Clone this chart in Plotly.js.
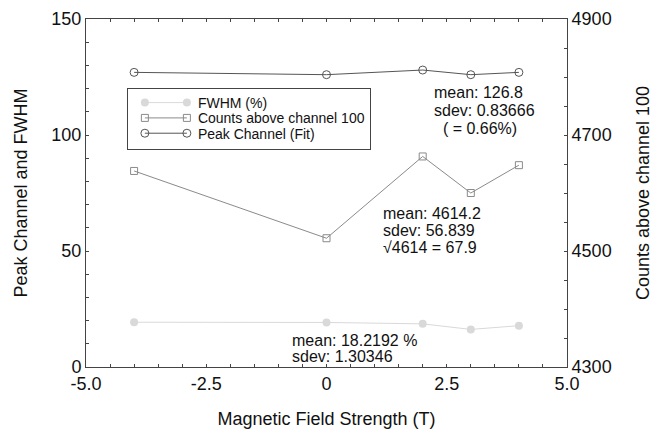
<!DOCTYPE html>
<html>
<head>
<meta charset="utf-8">
<script src="https://cdn.plot.ly/plotly-3.0.1.min.js"></script>
<style>
html,body{margin:0;padding:0;background:#fff;}
#chart{width:653px;height:429px;}
</style>
</head>
<body>
<div id="chart"></div>
<script>
// Data
const fieldStrength = [-4, 0, 2, 3, 4];
const fwhmPercent = [19.3, 19.2, 18.6, 16.2, 17.8];
const countsAbove100 = [4638, 4522, 4663, 4600, 4648];
const peakChannel = [127, 126, 128, 126, 127];

const seriesNames = ["FWHM (%)", "Counts above channel 100", "Peak Channel (Fit)"];
const xTickVals = [-5, -2.5, 0, 2.5, 5];
const xTickText = ["-5.0", "-2.5", "0", "2.5", "5.0"];
const yLeftTicks = [0, 50, 100, 150];
const yRightTicks = [4300, 4500, 4700, 4900];

const peakStats = ["mean: 126.8", "sdev: 0.83666", "\u00a0\u00a0( = 0.66%)"];
const countStats = ["mean: 4614.2", "sdev: 56.839", "\u221a4614 = 67.9"];
const fwhmStats = ["mean: 18.2192 %", "sdev: 1.30346"];

const FONT = "Liberation Sans, Arial, Helvetica, sans-serif";
const AXC = "#444";

const traces = [
  {
    x: fieldStrength, y: fwhmPercent, name: seriesNames[0], yaxis: "y",
    mode: "lines+markers",
    line: {color: "#d9d9d9", width: 1},
    marker: {symbol: "circle", size: 8, color: "#d9d9d9"}
  },
  {
    x: fieldStrength, y: countsAbove100, name: seriesNames[1], yaxis: "y2",
    mode: "lines+markers",
    line: {color: "#8a8a8a", width: 1},
    marker: {symbol: "square-open", size: 7, color: "#8a8a8a", line: {width: 1, color: "#8a8a8a"}}
  },
  {
    x: fieldStrength, y: peakChannel, name: seriesNames[2], yaxis: "y",
    mode: "lines+markers",
    line: {color: "#555", width: 1},
    marker: {symbol: "circle-open", size: 8, color: "#555", line: {width: 1, color: "#555"}}
  }
];

function statAnn(lines, x0, yVals) {
  return lines.map((t, i) => ({
    text: t, x: x0, y: yVals[i], xref: "x", yref: "y",
    xanchor: "left", yanchor: "middle", showarrow: false,
    font: {family: FONT, size: 16, color: "#111"}
  }));
}

const annotations = [].concat(
  statAnn(peakStats, 2.2, [118.2, 110.6, 102.6]),
  statAnn(countStats, 1.14, [66.3, 58.9, 51.3]),
  statAnn(fwhmStats, -0.75, [11.4, 4.5])
);

const layout = {
  width: 653, height: 429,
  margin: {l: 86, r: 86, t: 19, b: 62, pad: 0},
  paper_bgcolor: "#fff", plot_bgcolor: "#fff",
  font: {family: FONT, size: 18, color: "#111"},
  showlegend: true,
  legend: {
    x: 0.085, y: 0.802, xanchor: "left", yanchor: "top",
    bgcolor: "#fff", bordercolor: AXC, borderwidth: 1,
    font: {family: FONT, size: 14, color: "#111"},
    itemwidth: 60, tracegroupgap: 0
  },
  xaxis: {
    range: [-5, 5], tickmode: "array", tickvals: xTickVals, ticktext: xTickText,
    ticks: "inside", ticklen: 3, tickcolor: AXC, tickwidth: 1,
    minor: {dtick: 0.5, ticks: "inside", ticklen: 3, tickcolor: AXC, showgrid: false},
    showline: true, linecolor: AXC, linewidth: 1, mirror: "ticks",
    showgrid: false, zeroline: false,
    tickfont: {size: 18},
    title: {text: "Magnetic Field Strength (T)", font: {size: 18}, standoff: 22}
  },
  yaxis: {
    range: [0, 150], tickmode: "array", tickvals: yLeftTicks,
    ticks: "inside", ticklen: 3, tickcolor: AXC, tickwidth: 1,
    minor: {dtick: 10, ticks: "inside", ticklen: 3, tickcolor: AXC, showgrid: false},
    showline: true, linecolor: AXC, linewidth: 1,
    showgrid: false, zeroline: false,
    tickfont: {size: 18},
    title: {text: "Peak Channel and FWHM", font: {size: 18}, standoff: 19}
  },
  yaxis2: {
    overlaying: "y", side: "right",
    range: [4300, 4900], tickmode: "array", tickvals: yRightTicks,
    ticks: "inside", ticklen: 3, tickcolor: AXC, tickwidth: 1,
    minor: {dtick: 50, ticks: "inside", ticklen: 3, tickcolor: AXC, showgrid: false},
    showline: true, linecolor: AXC, linewidth: 1,
    showgrid: false, zeroline: false,
    tickfont: {size: 18},
    title: {text: "Counts above channel 100", font: {size: 18}, standoff: 27}
  },
  annotations: annotations
};

// Compact the legend rows and draw the symbol at both ends of its line,
// as in the reference legend.
function styleLegend() {
  const gd = document.getElementById("chart");
  const legend = gd.querySelector(".legend");
  if (!legend) return;
  const rowTop = 14.7, rowGap = 15.3;
  const items = legend.querySelectorAll("g.traces");
  items.forEach((g, i) => {
    const tr = g.getAttribute("transform") || "";
    const m = tr.match(/translate\(\s*([-\d.]+)/);
    const tx = m ? parseFloat(m[1]) : 0;
    g.setAttribute("transform", "translate(" + tx + "," + (rowTop + i * rowGap) + ")");
    const line = g.querySelector("path.js-line");
    if (line) line.setAttribute("d", "M17,0h42");
    const pts = g.querySelectorAll("path.scatterpts");
    pts.forEach(p => {
      p.setAttribute("transform", "translate(17,0)");
      const c = p.cloneNode(true);
      c.setAttribute("transform", "translate(59,0)");
      p.parentNode.appendChild(c);
    });
  });
  const bg = legend.querySelector("rect.bg");
  if (bg) bg.setAttribute("height", rowTop + (items.length - 1) * rowGap + 15.7);
}

Plotly.newPlot("chart", traces, layout, {displayModeBar: false, staticPlot: true})
  .then(styleLegend);
</script>
</body>
</html>
